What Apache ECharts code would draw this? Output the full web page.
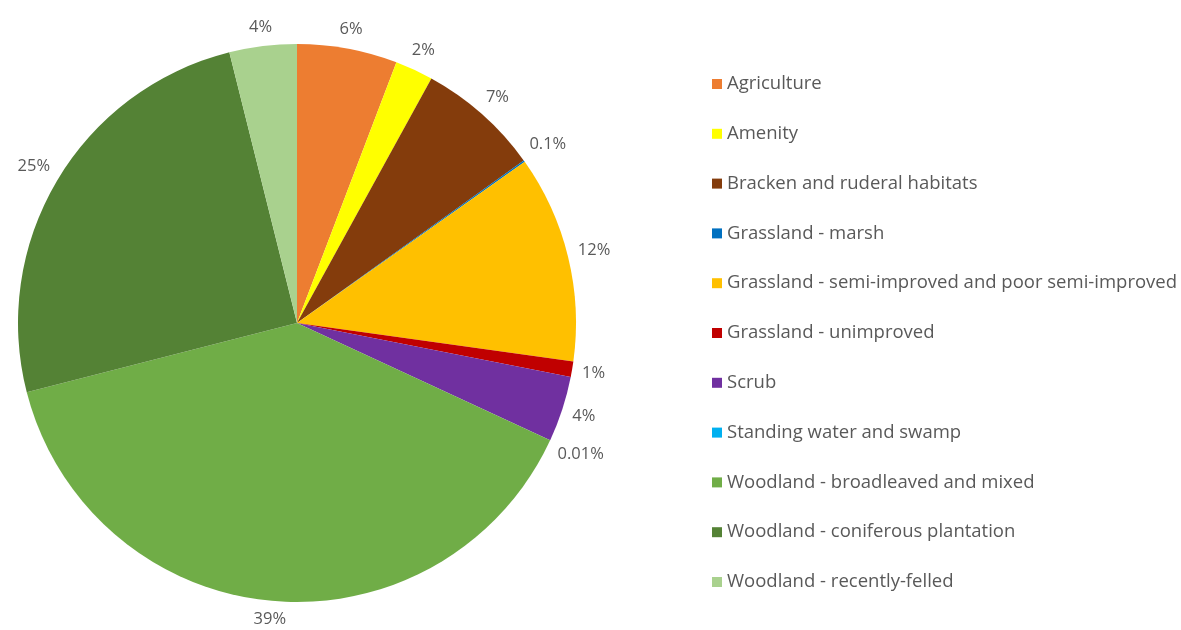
<!DOCTYPE html>
<html>
<head>
<meta charset="utf-8">
<script src="https://cdn.jsdelivr.net/npm/echarts@6/dist/echarts.min.js"></script>
<style>html,body{margin:0;padding:0;background:#fff}#c{width:1181px;height:630px}</style>
</head>
<body>
<div id="c"></div>
<script>
const categories = [
  'Agriculture',
  'Amenity',
  'Bracken and ruderal habitats',
  'Grassland - marsh',
  'Grassland - semi-improved and poor semi-improved',
  'Grassland - unimproved',
  'Scrub',
  'Standing water and swamp',
  'Woodland - broadleaved and mixed',
  'Woodland - coniferous plantation',
  'Woodland - recently-felled'
];
const percentValues = [5.8, 2.2, 7.1, 0.1, 12.0, 0.9, 3.8, 0.01, 39.1, 25.1, 3.9];
const colors = ['#ED7D31','#FFFF00','#843C0C','#0070C0','#FFC000','#C00000','#7030A0','#00B0F0','#70AD47','#548235','#A9D18E'];

function fmt(v){
  if (v < 0.05) return v.toFixed(2) + '%';
  if (v < 0.5) return v.toFixed(1) + '%';
  return Math.round(v) + '%';
}

const LABEL_GAP = 9;

const chart = echarts.init(document.getElementById('c'));
chart.setOption({
  animation: false,
  backgroundColor: '#fff',
  color: colors,
  legend: {
    orient: 'vertical',
    left: 707,
    top: 68,
    itemWidth: 10,
    itemHeight: 10,
    itemGap: 27.8,
    icon: 'rect',
    textStyle: { fontFamily: 'Open Sans', fontSize: 18.5, color: '#595959', lineHeight: 22 },
    data: categories
  },
  series: [{
    type: 'pie',
    center: [297, 323],
    radius: 279,
    startAngle: 90,
    clockwise: true,
    avoidLabelOverlap: false,
    itemStyle: { borderWidth: 0 },
    label: {
      show: true,
      position: 'outside',
      fontFamily: 'Open Sans',
      fontSize: 16.5,
      color: '#595959',
      formatter: p => fmt(p.value)
    },
    labelLine: { show: true, length: 10, length2: 0, lineStyle: { opacity: 0 } },
    labelLayout: function (p) {
      const pts = p.labelLinePoints;
      if (!pts) return {};
      let ux = pts[1][0] - pts[0][0], uy = pts[1][1] - pts[0][1];
      const len = Math.hypot(ux, uy) || 1;
      ux /= len; uy /= len;
      const w = p.labelRect.width, h = p.labelRect.height;
      const ext = Math.abs(ux) * w / 2 + Math.abs(uy) * h / 2;
      const d = LABEL_GAP + ext;
      return {
        x: pts[0][0] + ux * d,
        y: pts[0][1] + uy * d,
        align: 'center',
        verticalAlign: 'middle'
      };
    },
    data: categories.map((n, i) => ({ name: n, value: percentValues[i] }))
  }]
});
</script>
</body>
</html>
